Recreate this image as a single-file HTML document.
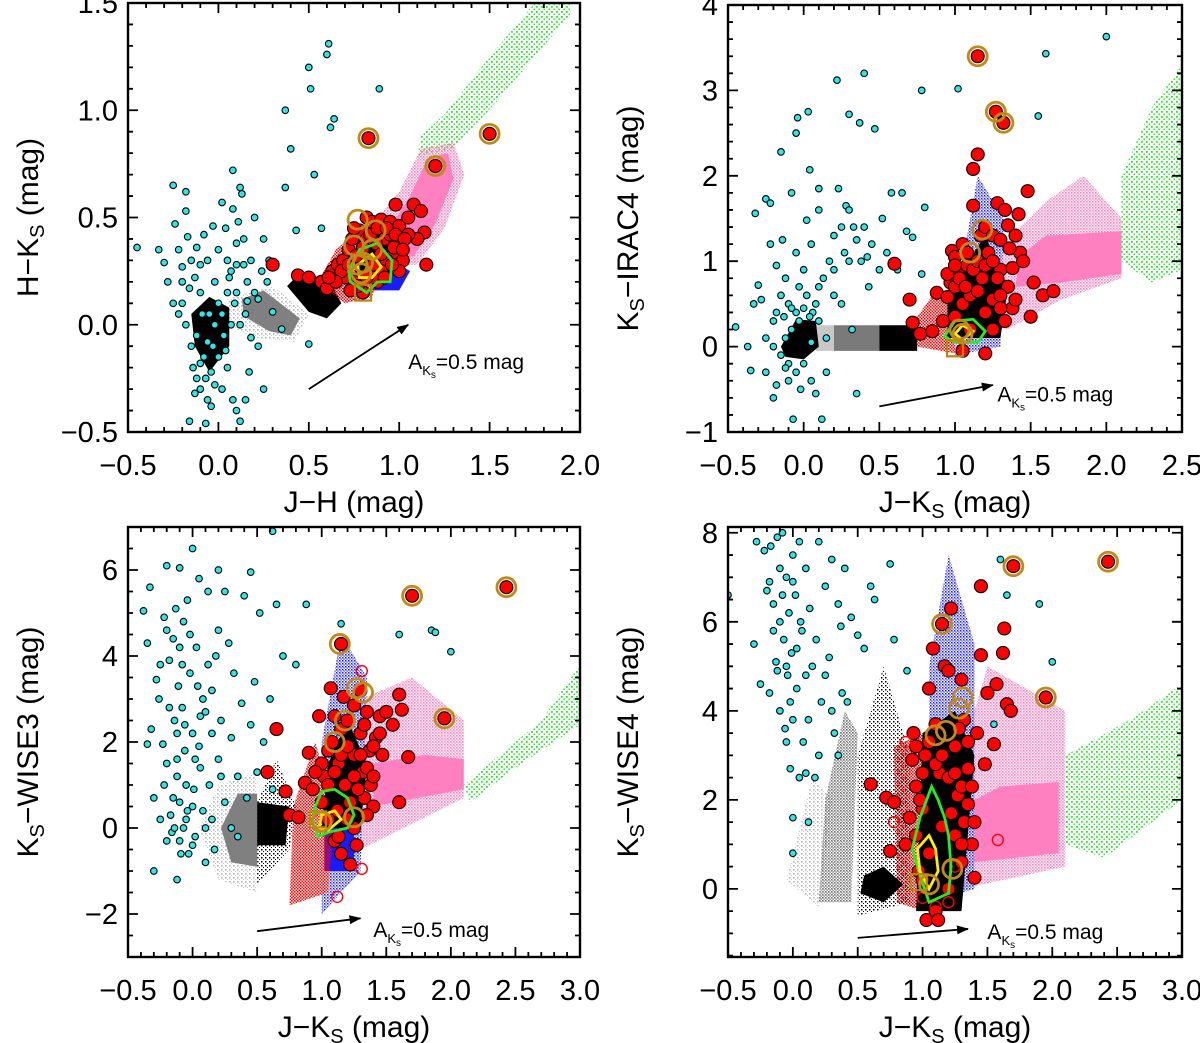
<!DOCTYPE html>
<html><head><meta charset="utf-8"><style>
html,body{margin:0;padding:0;background:#fff;}
svg{display:block;font-family:"Liberation Sans",sans-serif;}
</style></head><body>
<svg id="fig" width="1200" height="1043" viewBox="0 0 1200 1043" xmlns="http://www.w3.org/2000/svg">
<defs>
<pattern id="dGreen" width="5" height="5" patternUnits="userSpaceOnUse"><rect x="1" y="1" width="1.8" height="1.8" fill="#22ee22"/><rect x="3.5" y="3.5" width="1.5" height="1.5" fill="#22ee22"/></pattern>
<pattern id="dPink" width="3" height="3" patternUnits="userSpaceOnUse"><rect x="0" y="0" width="1.6" height="1.6" fill="#ff7fbf"/><rect x="1.5" y="1.5" width="1.3" height="1.3" fill="#ff7fbf"/></pattern>
<pattern id="dBlack" width="4" height="4" patternUnits="userSpaceOnUse"><rect x="1" y="1" width="1.5" height="1.5" fill="#000"/><rect x="3" y="3" width="1.2" height="1.2" fill="#000"/></pattern>
<pattern id="dGray" width="3" height="3" patternUnits="userSpaceOnUse"><rect x="0" y="0" width="1.6" height="1.6" fill="#707070"/><rect x="1.5" y="1.5" width="1.4" height="1.4" fill="#888"/></pattern>
<pattern id="dLGray" width="4" height="4" patternUnits="userSpaceOnUse"><rect x="1" y="1" width="1.6" height="1.6" fill="#b8b8b8"/><rect x="3" y="3" width="1.2" height="1.2" fill="#c8c8c8"/></pattern>
<pattern id="dBlue" width="3" height="3" patternUnits="userSpaceOnUse"><rect x="0" y="0" width="1.5" height="1.5" fill="#1a1aff"/><rect x="1.5" y="1.5" width="1.2" height="1.2" fill="#1a1aff"/></pattern>
<pattern id="dRed" width="3" height="3" patternUnits="userSpaceOnUse"><rect x="0" y="0" width="1.6" height="1.6" fill="#f00"/><rect x="1.5" y="1.5" width="1.5" height="1.5" fill="#f00"/></pattern>
<marker id="arrowHead" markerWidth="12" markerHeight="9" refX="11" refY="4.5" orient="auto" markerUnits="userSpaceOnUse"><path d="M0,0 L12,4.5 L0,9 z" fill="#000"/></marker>
</defs>
</svg>
<script>
// ---------- Panel 1 data (J-H vs H-Ks) ----------
const p1Green=[[1.1,0.78],[1.3,0.82],[1.55,1.05],[1.95,1.45],[1.95,1.52],[1.75,1.5],[1.5,1.25],[1.25,0.98],[1.12,0.88]];
const p1PinkHalo=[[0.9,0.28],[1.1,0.28],[1.25,0.45],[1.36,0.7],[1.3,0.85],[1.12,0.82],[1.0,0.62],[0.88,0.5]];
const p1Pink=[[0.98,0.3],[1.08,0.32],[1.2,0.47],[1.3,0.68],[1.27,0.8],[1.16,0.78],[1.06,0.6],[0.97,0.48]];
const p1Blue=[[0.85,0.16],[1.0,0.16],[1.06,0.25],[0.96,0.3]];
const p1RedCloud=[[0.55,0.2],[0.7,0.1],[0.85,0.13],[0.92,0.3],[0.82,0.47],[0.65,0.35]];
const p1BlackCore=[[0.75,0.2],[0.95,0.22],[1.02,0.38],[0.92,0.48],[0.78,0.42]];
const p1BlackBlob=[[0.38,0.18],[0.5,0.06],[0.6,0.03],[0.68,0.1],[0.62,0.2],[0.46,0.25]];
const p1Gray=[[0.13,0.12],[0.25,0.16],[0.45,0.03],[0.4,-0.05],[0.28,-0.03],[0.14,0.04]];
const p1LGray=[[0.05,0.12],[0.3,0.18],[0.5,0.05],[0.42,-0.08],[0.2,-0.06],[0.05,0.0]];
const p1BlackDwarf=[[-0.15,0.05],[-0.05,0.13],[0.06,0.08],[0.06,-0.1],[-0.05,-0.22],[-0.13,-0.1]];
const p1Cyan=[[-0.45,0.36],[-0.33,0.35],[-0.3,0.29],[-0.28,0.2],[-0.25,0.65],[-0.24,0.47],[-0.22,0.35],[-0.2,0.27],[-0.18,0.62],[-0.18,0.53],[-0.17,0.41],[-0.15,0.3],[-0.13,0.22],[-0.12,0.36],[-0.1,0.28],[-0.08,0.42],[-0.06,0.3],[-0.03,0.46],[-0.02,0.2],[0.0,0.35],[0.02,0.57],[0.04,0.45],[0.05,0.3],[0.07,0.25],[0.08,0.54],[0.1,0.38],[0.12,0.64],[0.13,0.61],[0.14,0.28],[0.16,0.2],[0.2,0.5],[0.22,0.12],[0.25,0.4],[0.27,0.2],[0.3,0.06],[0.35,-0.02],[0.37,1.0],[0.37,0.64],[0.4,0.82],[0.43,0.44],[0.5,1.2],[0.51,1.1],[0.5,-0.09],[0.53,0.7],[0.57,0.45],[0.6,1.26],[0.61,1.31],[0.62,0.92],[0.64,0.96],[0.89,1.1],[0.08,0.72],[-0.2,0.1],[-0.18,0.0],[-0.15,-0.1],[-0.14,-0.2],[-0.12,-0.25],[-0.1,-0.3],[-0.08,-0.15],[-0.06,-0.35],[-0.05,0.05],[-0.04,-0.22],[-0.02,-0.28],[0.0,-0.15],[0.02,-0.3],[0.03,-0.05],[0.05,-0.2],[0.07,0.0],[0.08,-0.35],[0.1,-0.4],[0.12,-0.45],[0.15,-0.35],[0.17,-0.22],[0.18,-0.06],[0.22,-0.1],[0.25,-0.3],[-0.16,-0.45],[-0.07,-0.46],[-0.25,0.1],[-0.22,0.05],[0.0,0.1],[0.1,0.15],[0.15,0.05],[0.05,0.15],[-0.1,0.15],[0.12,0.0],[-0.03,-0.1],[-0.12,-0.05],[-0.09,0.05],[-0.06,-0.08],[-0.02,0.0],[0.02,0.05],[0.04,-0.12],[-0.1,-0.18],[-0.07,-0.25],[-0.13,-0.32],[-0.04,-0.38],[0.06,0.22],[0.1,0.28],[0.14,0.4],[0.18,0.3],[0.09,0.1],[-0.16,0.17],[-0.2,0.2],[0.2,0.15],[0.24,0.25],[0.28,0.3],[0.11,0.48],[0.16,0.11]];
const p1Red=[[0.3,0.28],[0.44,0.23],[0.5,0.22],[0.57,0.2],[0.6,0.17],[0.63,0.25],[0.66,0.28],[0.69,0.3],[0.72,0.35],[0.74,0.4],[0.78,0.44],[0.82,0.5],[0.85,0.48],[0.9,0.49],[0.95,0.48],[1.0,0.46],[1.05,0.5],[0.98,0.56],[1.08,0.56],[1.12,0.53],[1.14,0.43],[1.1,0.4],[1.05,0.42],[1.0,0.38],[0.97,0.33],[0.93,0.3],[0.9,0.25],[0.88,0.2],[0.85,0.22],[0.8,0.15],[0.75,0.2],[0.7,0.22],[1.15,0.28],[0.92,0.4],[0.95,0.42],[0.87,0.38],[1.02,0.3],[1.0,0.25],[0.83,0.87],[1.2,0.74],[1.5,0.89],[0.75,0.45],[0.97,0.36],[0.82,0.4],[0.68,0.25],[0.72,0.28],[0.76,0.32],[0.8,0.36],[0.84,0.42],[0.88,0.45],[0.93,0.45],[0.98,0.42],[1.03,0.4],[1.02,0.35],[0.96,0.28],[0.9,0.33],[0.86,0.28],[0.82,0.22],[0.77,0.18],[0.65,0.2],[0.61,0.22],[0.73,0.16],[0.92,0.22]];
const p1Gold=[[0.83,0.87],[1.2,0.74],[1.5,0.89],[0.77,0.49],[0.87,0.44],[0.75,0.37],[0.85,0.35],[0.8,0.29],[0.79,0.24],[0.77,0.28]];
const p1GreenContour=[[0.72,0.25],[0.78,0.35],[0.88,0.38],[0.96,0.3],[0.95,0.2],[0.88,0.2],[0.82,0.15],[0.73,0.2]];
const p1YellowContour=[[0.77,0.28],[0.85,0.33],[0.9,0.27],[0.85,0.22],[0.78,0.22]];
const p1Square=[0.8,0.15];
const p1Arrow=[[0.5,-0.3],[1.05,0.0]];
const p1Label=[1.05,-0.17];
const p1XTicks=["−0.5","0.0","0.5","1.0","1.5","2.0"];
const p1YTicks=["−0.5","0.0","0.5","1.0","1.5"];

// ---------- Panel 2 data (J-Ks vs Ks-IRAC4) ----------
const p2Green=[[2.1,1.0],[2.1,2.0],[2.3,2.8],[2.5,3.3],[2.5,0.9],[2.3,0.75]];
const p2PinkHalo=[[1.1,0.3],[1.35,0.2],[1.7,0.55],[2.1,0.8],[2.1,1.5],[1.85,2.0],[1.6,1.7],[1.4,1.35],[1.25,0.9]];
const p2Pink=[[1.4,0.7],[1.7,0.75],[2.1,0.85],[2.1,1.35],[1.6,1.3],[1.42,1.05]];
const p2Blue=[[1.0,-0.1],[1.3,0.0],[1.32,1.5],[1.15,2.0],[1.05,1.0]];
const p2RedCloud=[[0.75,0.0],[1.0,-0.08],[1.02,0.5],[0.85,0.6],[0.75,0.35]];
const p2BlackCore=[[0.95,0.1],[1.3,0.1],[1.35,0.7],[1.2,1.3],[1.05,0.9],[0.95,0.5]];
const p2BlackStrip=[[0.5,-0.05],[0.75,-0.05],[0.75,0.25],[0.5,0.25]];
const p2Gray=[[0.2,-0.05],[0.5,-0.05],[0.5,0.25],[0.2,0.25]];
const p2LGray=[[0.08,-0.05],[0.2,-0.05],[0.2,0.25],[0.08,0.25]];
const p2BlackDwarf=[[-0.15,0.0],[-0.05,0.32],[0.08,0.3],[0.1,0.0],[0.0,-0.15],[-0.12,-0.12]];
const p2Cyan=[[-0.45,0.23],[-0.37,0.0],[-0.35,-0.28],[-0.33,0.5],[-0.32,1.56],[-0.3,0.72],[-0.28,0.55],[-0.25,1.73],[-0.22,1.68],[-0.22,1.2],[-0.2,0.3],[-0.2,-0.6],[-0.18,0.95],[-0.15,2.28],[-0.14,1.25],[-0.12,0.8],[-0.1,0.5],[-0.1,-0.4],[-0.08,1.8],[-0.07,-0.85],[-0.05,2.5],[-0.05,1.1],[-0.04,2.68],[-0.03,0.3],[-0.02,-0.5],[0.0,0.9],[0.02,0.6],[0.02,1.48],[0.03,2.75],[0.04,2.07],[0.05,1.2],[0.06,0.4],[0.08,-0.55],[0.1,1.85],[0.1,1.6],[0.12,-0.85],[0.13,0.8],[0.15,-0.3],[0.17,1.0],[0.2,1.3],[0.22,3.12],[0.23,1.85],[0.25,0.5],[0.27,1.1],[0.28,1.65],[0.3,2.72],[0.32,0.2],[0.33,1.4],[0.35,-0.55],[0.37,2.62],[0.38,1.0],[0.4,3.2],[0.4,1.4],[0.43,0.7],[0.45,1.2],[0.47,2.55],[0.5,0.9],[0.52,1.5],[0.55,1.1],[0.58,1.8],[0.62,0.9],[0.65,1.8],[0.68,1.35],[0.72,1.28],[0.78,0.85],[0.8,1.63],[0.78,3.0],[0.95,0.55],[1.02,3.02],[1.6,3.43],[1.55,2.7],[2.0,3.63],[-0.12,0.1],[-0.08,0.2],[-0.15,-0.1],[0.0,-0.2],[0.05,0.05],[-0.2,0.0],[-0.1,-0.2],[0.1,0.3],[0.15,0.1],[-0.05,0.4],[0.2,0.6],[-0.25,0.1],[-0.18,0.4],[-0.13,0.35],[-0.08,0.45],[0.0,0.45],[0.04,0.35],[0.08,0.5],[-0.15,0.6],[-0.03,0.7],[0.1,0.7],[0.25,1.4],[0.3,1.0],[0.35,1.25],[0.42,1.05],[0.3,1.6],[0.2,0.9],[-0.25,-0.3],[-0.18,-0.45],[-0.12,-0.25],[-0.05,-0.3],[0.05,-0.4]];
const p2Red=[[0.6,0.97],[0.7,0.55],[0.72,0.28],[0.77,0.15],[0.85,0.18],[0.88,0.63],[0.92,0.3],[0.95,0.58],[0.97,0.75],[0.98,1.12],[1.0,1.05],[1.02,0.9],[1.05,0.5],[1.05,1.2],[1.08,1.1],[1.1,0.6],[1.1,0.2],[1.12,1.65],[1.12,2.08],[1.15,2.25],[1.15,3.4],[1.17,1.3],[1.18,0.8],[1.2,1.4],[1.2,0.4],[1.22,1.1],[1.25,1.3],[1.27,2.75],[1.28,1.68],[1.3,1.25],[1.3,0.9],[1.32,2.62],[1.33,1.6],[1.35,1.42],[1.35,0.7],[1.38,0.92],[1.38,0.45],[1.4,1.3],[1.42,1.55],[1.43,1.1],[1.45,1.0],[1.48,1.82],[1.5,0.35],[1.52,0.75],[1.58,0.6],[1.65,0.65],[1.2,-0.08],[1.05,-0.05],[1.0,0.35],[1.15,0.65],[1.25,0.55],[1.3,0.6],[1.08,0.95],[1.0,0.7],[1.03,0.8],[1.07,0.7],[1.12,0.9],[1.15,1.0],[1.2,0.95],[1.25,1.0],[1.28,0.8],[1.3,0.45],[1.33,0.3],[1.36,1.15],[1.4,0.55],[1.25,0.2],[0.95,0.85],[1.0,0.95]];
const p2Gold=[[1.15,3.4],[1.27,2.75],[1.32,2.62],[1.18,1.37],[1.1,1.1],[1.03,0.2],[1.05,0.15]];
const p2GreenContour=[[0.93,0.12],[1.0,0.3],[1.12,0.32],[1.2,0.18],[1.15,0.05],[1.0,0.05]];
const p2YellowContour=[[1.0,0.15],[1.05,0.25],[1.12,0.18],[1.05,0.08]];
const p2Square=[1.0,-0.02];
const p2Arrow=[[0.5,-0.7],[1.25,-0.45]];
const p2Label=[1.28,-0.55];
const p2XTicks=["−0.5","0.0","0.5","1.0","1.5","2.0","2.5"];
const p2YTicks=["−1","0","1","2","3","4"];

// ---------- Panel 3 data (J-Ks vs Ks-WISE3) ----------
const p3Green=[[2.1,1.0],[2.3,1.5],[2.7,2.5],[3.0,3.8],[3.0,2.4],[2.5,1.4],[2.15,0.6]];
const p3PinkHalo=[[1.3,-0.5],[2.1,0.7],[2.1,2.5],[1.7,3.5],[1.3,3.0]];
const p3Pink=[[1.4,0.5],[2.1,0.9],[2.1,1.6],[1.8,1.7],[1.4,1.5]];
const p3BlueHalo=[[1.0,-2.0],[1.3,-1.0],[1.35,3.5],[1.15,4.5],[1.0,2.0]];
const p3Blue=[[1.02,-1.0],[1.25,-1.0],[1.25,0.0],[1.02,0.0]];
const p3RedCloud=[[0.75,-1.8],[1.05,-1.5],[1.1,0.5],[0.95,2.0],[0.78,0.5]];
const p3BlackCore=[[1.0,0.0],[1.3,0.0],[1.35,1.5],[1.2,2.5],[1.05,1.5]];
const p3BlackHalo=[[0.5,-1.3],[0.75,-0.5],[0.8,0.5],[0.65,1.6],[0.5,0.6]];
const p3BlackDense=[[0.5,-0.4],[0.72,-0.4],[0.75,0.5],[0.5,0.6]];
const p3Gray=[[0.22,0.0],[0.3,-0.8],[0.5,-0.9],[0.5,0.8],[0.35,0.8]];
const p3LGray=[[0.05,0.0],[0.2,-1.2],[0.5,-1.5],[0.5,1.3],[0.2,1.0]];
const p3Cyan=[[-0.38,5.05],[-0.35,4.3],[-0.33,5.6],[-0.32,2.3],[-0.35,1.95],[-0.3,0.7],[-0.28,3.45],[-0.25,3.8],[-0.23,1.95],[-0.22,4.9],[-0.2,4.6],[-0.2,1.5],[-0.18,3.9],[-0.17,0.3],[-0.16,-0.1],[-0.15,4.4],[-0.14,2.5],[-0.13,5.1],[-0.12,1.2],[-0.11,3.3],[-0.1,0.6],[-0.1,-0.3],[-0.08,2.8],[-0.07,4.8],[-0.06,1.8],[-0.05,0.2],[-0.04,5.3],[-0.03,-0.6],[-0.02,3.6],[0.0,6.5],[0.0,2.2],[0.01,0.9],[0.02,-0.2],[0.03,4.2],[0.05,5.8],[0.06,1.4],[0.08,3.0],[0.08,0.4],[0.1,2.7],[0.12,5.5],[0.13,1.0],[0.15,3.2],[0.17,-0.5],[0.18,4.0],[0.2,1.6],[0.22,2.5],[0.25,0.6],[0.28,4.3],[0.3,2.1],[0.32,3.6],[0.35,1.2],[0.38,2.9],[0.4,5.4],[0.42,0.7],[0.45,2.4],[0.48,3.4],[0.5,1.3],[0.52,5.0],[0.55,2.0],[0.6,3.0],[0.62,0.9],[0.65,5.2],[0.7,4.0],[0.8,3.8],[0.88,5.2],[1.15,4.75],[1.6,4.5],[1.85,4.6],[1.88,4.55],[2.0,4.1],[-0.3,-1.0],[-0.12,-1.2],[-0.07,0.0],[0.0,0.5],[-0.15,0.7],[0.1,-0.8],[-0.25,0.2],[0.15,0.2],[0.3,0.0],[0.35,-0.2],[-0.05,1.0],[0.05,1.9],[-0.2,6.1],[-0.1,6.05],[0.2,6.0],[0.45,5.95],[0.25,5.5],[0.62,6.9],[-0.18,2.8],[-0.12,2.2],[-0.08,3.8],[-0.02,4.5],[0.02,1.6],[-0.22,1.0],[-0.14,0.0],[-0.09,-0.6],[-0.04,0.4],[0.0,-0.4],[-0.2,-0.3],[-0.26,3.0],[-0.1,4.2],[0.06,2.6],[0.12,3.8],[0.2,4.6],[0.1,0.0],[-0.12,1.6],[-0.06,2.4],[0.04,3.3],[0.15,2.2],[0.22,1.2]];
const p3Red=[[0.58,1.3],[0.65,2.3],[0.72,0.85],[0.75,0.3],[0.82,0.25],[0.87,1.05],[0.9,1.75],[0.93,0.9],[0.98,2.6],[1.0,0.6],[1.02,1.2],[1.05,1.8],[1.07,3.25],[1.08,2.0],[1.1,-0.3],[1.12,0.4],[1.13,1.5],[1.15,2.3],[1.15,4.28],[1.15,-0.6],[1.17,3.05],[1.18,1.0],[1.2,2.5],[1.22,-0.85],[1.22,0.6],[1.25,2.85],[1.25,1.7],[1.27,-0.4],[1.3,3.2],[1.3,2.2],[1.32,1.3],[1.33,0.7],[1.35,2.7],[1.37,1.8],[1.38,1.0],[1.4,0.5],[1.42,2.1],[1.45,2.6],[1.47,1.7],[1.5,2.7],[1.55,2.4],[1.6,3.1],[1.6,0.6],[1.62,2.75],[1.67,1.65],[1.7,5.4],[2.43,5.6],[1.95,2.55],[1.13,-0.2],[1.25,0.0],[1.05,0.2],[1.0,1.5],[1.05,1.0],[1.1,1.3],[1.15,1.7],[1.2,1.9],[1.25,1.2],[1.3,1.7],[1.35,1.4],[1.4,1.2],[1.4,1.9],[1.45,2.2],[1.33,2.4],[1.28,0.9],[1.35,0.3],[1.2,0.2],[1.1,2.6],[0.95,1.3]];
const p3RedOpen=[[1.31,3.65],[1.31,-0.95],[1.12,-1.6]];
const p3Gold=[[1.7,5.4],[2.43,5.6],[1.95,2.55],[1.14,4.28],[1.27,3.25],[1.32,3.15],[1.18,2.5],[1.1,2.0],[1.25,0.25],[1.0,0.15]];
const p3GreenContour=[[0.95,0.5],[1.0,0.85],[1.1,0.9],[1.2,0.7],[1.25,0.3],[1.2,0.0],[1.05,-0.1],[0.97,-0.2],[0.93,0.2]];
const p3YellowContour=[[1.0,0.3],[1.1,0.4],[1.15,0.2],[1.05,-0.05],[0.98,0.0]];
const p3Square=[0.97,0.2];
const p3Arrow=[[0.5,-2.4],[1.3,-2.1]];
const p3Label=[1.4,-2.35];
const p3XTicks=["−0.5","0.0","0.5","1.0","1.5","2.0","2.5","3.0"];
const p3YTicks=["−2","0","2","4","6"];

// ---------- Panel 4 data (J-Ks vs Ks-WISE4) ----------
const p4Green=[[2.1,1.0],[2.1,3.0],[2.6,3.8],[3.0,4.6],[3.0,2.0],[2.4,0.7]];
const p4PinkHalo=[[1.3,0.0],[2.1,0.5],[2.1,4.0],[1.5,5.0],[1.3,3.0]];
const p4Pink=[[1.4,0.6],[2.05,0.8],[2.05,2.4],[1.6,2.3],[1.4,2.0]];
const p4Blue=[[1.05,-0.3],[1.4,0.0],[1.4,5.5],[1.2,7.5],[1.05,5.0]];
const p4RedCloud=[[0.8,-0.3],[1.0,-0.5],[1.0,3.5],[0.78,3.2]];
const p4BlackCore=[[0.95,-0.5],[1.3,-0.5],[1.4,3.0],[1.25,4.0],[1.0,3.5]];
const p4BlackHalo=[[0.5,-0.6],[0.9,-0.3],[0.9,3.0],[0.7,5.0],[0.5,3.0]];
const p4BlackDense=[[0.52,-0.1],[0.7,-0.3],[0.85,0.1],[0.7,0.5],[0.55,0.3]];
const p4Gray=[[0.2,-0.3],[0.45,-0.3],[0.5,3.5],[0.4,4.0],[0.25,2.0]];
const p4LGray=[[-0.05,0.2],[0.2,-0.4],[0.3,2.0],[0.15,2.5]];
const p4Cyan=[[-0.5,6.6],[-0.3,5.5],[-0.28,7.8],[-0.25,4.6],[-0.22,7.6],[-0.2,6.7],[-0.18,4.4],[-0.17,7.7],[-0.15,6.4],[-0.13,5.1],[-0.12,7.9],[-0.1,6.0],[-0.1,4.0],[-0.08,8.0],[-0.07,5.6],[-0.06,3.6],[-0.05,7.0],[-0.04,4.8],[-0.03,6.2],[-0.02,2.7],[-0.01,5.3],[0.0,7.5],[0.0,3.8],[0.0,1.6],[0.02,6.6],[0.03,4.5],[0.05,7.8],[0.05,2.5],[0.07,5.8],[0.08,3.3],[0.1,7.2],[0.1,4.8],[0.12,1.5],[0.13,6.3],[0.15,5.0],[0.17,2.5],[0.2,7.8],[0.22,4.2],[0.25,6.8],[0.28,5.2],[0.3,7.4],[0.3,4.0],[0.32,3.5],[0.35,6.4],[0.37,5.9],[0.38,4.4],[0.4,7.2],[0.42,4.2],[0.45,6.1],[0.5,5.7],[0.55,5.4],[0.6,6.8],[0.63,6.5],[0.75,7.3],[0.78,5.6],[0.88,4.9],[1.6,7.4],[1.65,6.6],[1.9,6.4],[2.0,5.1],[1.55,3.7],[0.35,3.0],[0.2,3.0],[0.0,0.8],[-0.15,5.8],[-0.12,4.9],[-0.08,6.6],[-0.05,5.0],[-0.02,4.2],[0.03,5.4],[0.06,6.0],[-0.1,7.2],[0.12,3.8],[-0.18,6.9],[0.0,6.9],[0.18,5.6],[0.25,4.8],[0.1,2.6],[-0.05,3.3]];
const p4Red=[[0.6,2.35],[0.72,2.05],[0.75,0.85],[0.78,1.95],[0.87,1.0],[0.9,1.6],[0.92,2.9],[0.93,3.5],[0.95,2.3],[0.97,0.4],[1.0,1.8],[1.02,3.0],[1.03,-0.7],[1.05,4.5],[1.08,5.4],[1.1,-0.5],[1.1,3.7],[1.12,-0.7],[1.13,2.6],[1.15,1.4],[1.17,5.0],[1.2,4.9],[1.22,6.3],[1.25,3.2],[1.27,2.1],[1.3,4.7],[1.32,3.8],[1.35,2.7],[1.35,1.9],[1.38,1.0],[1.4,0.25],[1.42,3.5],[1.45,5.25],[1.45,6.8],[1.48,2.8],[1.5,4.4],[1.55,3.25],[1.57,4.6],[1.62,5.3],[1.63,5.85],[1.65,4.15],[1.68,4.0],[1.7,7.25],[2.43,7.35],[1.95,4.3],[1.15,5.95],[1.0,0.2],[1.2,0.0],[1.05,0.8],[1.25,1.2],[1.1,2.8],[1.3,0.6],[0.95,3.2],[1.0,2.6],[1.05,3.3],[1.15,3.0],[1.2,2.5],[1.25,2.6],[1.3,2.3],[1.32,1.5],[1.35,3.3],[1.3,1.0],[1.22,1.7],[0.95,1.2],[0.98,2.0],[1.38,2.3],[1.4,1.5],[1.28,3.6]];
const p4RedOpen=[[0.78,1.5],[0.87,3.3],[1.58,1.1],[1.1,-0.4],[1.2,-0.3],[1.0,-0.2],[1.25,0.5]];
const p4Gold=[[1.7,7.25],[2.43,7.35],[1.95,4.3],[1.15,5.95],[1.31,4.3],[1.28,4.05],[1.1,3.45],[1.18,3.55],[1.23,0.45],[1.05,0.1]];
const p4GreenContour=[[1.07,2.3],[1.12,2.0],[1.17,1.6],[1.2,1.2],[1.22,0.5],[1.2,-0.1],[1.05,-0.3],[0.98,0.3],[0.92,0.9],[0.98,1.6]];
const p4YellowContour=[[1.05,1.2],[1.1,0.9],[1.12,0.4],[1.05,0.0],[0.98,0.4],[0.96,0.9]];
const p4Square=[0.97,0.15];
const p4Arrow=[[0.5,-1.1],[1.35,-0.9]];
const p4Label=[1.5,-0.95];
const p4XTicks=["−0.5","0.0","0.5","1.0","1.5","2.0","2.5","3.0"];
const p4YTicks=["0","2","4","6","8"];

const NS="http://www.w3.org/2000/svg";
const svg=document.getElementById('fig');
function mk(tag,attrs,parent){const e=document.createElementNS(NS,tag);for(const k in attrs)e.setAttribute(k,attrs[k]);(parent||svg).appendChild(e);return e;}

function drawPanel(P){
  const g=mk('g',{});
  
  
  const clipId=P.name+'-clip';
  const cp=mk('clipPath',{id:clipId},g);mk('rect',{x:P.l,y:P.t,width:P.r-P.l,height:P.b-P.t},cp);
  const sx=v=>P.l+(v-P.x0)/(P.x1-P.x0)*(P.r-P.l);
  const sy=v=>P.b-(v-P.y0)/(P.y1-P.y0)*(P.b-P.t);
  const plot=mk('g',{'clip-path':'url(#'+clipId+')'},g);
  function poly(pts,fill,name,extra){const p=mk('polygon',Object.assign({points:pts.map(q=>sx(q[0])+','+sy(q[1])).join(' '),fill:fill},extra||{}),plot);
    
    return p;}
  P.clouds.forEach(c=>poly(c[0],c[1],c[2]));
  P.cyan.forEach(q=>{const c=mk('circle',{cx:sx(q[0]),cy:sy(q[1]),r:3.3,fill:'#2ee6e6',stroke:'#000','stroke-width':1.1},plot);
    
    });
  P.red.forEach(q=>{const c=mk('circle',{cx:sx(q[0]),cy:sy(q[1]),r:6.5,fill:'#ff0000',stroke:'#000','stroke-width':1.1},plot);
    
    });
  (P.redOpen||[]).forEach(q=>{const c=mk('circle',{cx:sx(q[0]),cy:sy(q[1]),r:5.5,fill:'none',stroke:'#ff0000','stroke-width':1.4},plot);
    
    });
  poly(P.greenC,'none','green-contour',{stroke:'#22ee22','stroke-width':2.8});
  poly(P.yellowC,'none','yellow-contour',{stroke:'#ffee00','stroke-width':2.8});
  const sq=mk('rect',{x:sx(P.square[0])-8,y:sy(P.square[1])-8,width:16,height:16,fill:'none',stroke:'#b8860b','stroke-width':2.2},plot);
  
  
  P.gold.forEach(q=>{const c=mk('circle',{cx:sx(q[0]),cy:sy(q[1]),r:9.5,fill:'none',stroke:'#c08a1a','stroke-width':2.8},plot);
    
    });
  const ar=mk('line',{x1:sx(P.arrow[0][0]),y1:sy(P.arrow[0][1]),x2:sx(P.arrow[1][0]),y2:sy(P.arrow[1][1]),stroke:'#000','stroke-width':1.8,'marker-end':'url(#arrowHead)'},g);
  
  
  const lt=mk('text',{x:sx(P.label[0]),y:sy(P.label[1])+8,'font-size':21,fill:'#000'},g);
  
  
  lt.innerHTML='A<tspan font-size="13" dy="6">K</tspan><tspan font-size="10" dy="3">s</tspan><tspan dy="-9">=0.5  mag</tspan>';
  const fr=mk('rect',{x:P.l,y:P.t,width:P.r-P.l,height:P.b-P.t,fill:'none',stroke:'#000','stroke-width':2.4},g);
  
  
  let d='';
  const eps=1e-6;
  for(let v=P.x0;v<=P.x1+eps;v+=P.xmin){const X=sx(v);const major=Math.abs(Math.round((v-P.x0)/P.xmaj)*P.xmaj-(v-P.x0))<eps;const L=major?10:5;d+=`M${X},${P.b}v${-L}M${X},${P.t}v${L}`;}
  for(let v=P.ytick0-Math.floor((P.ytick0-P.y0)/P.ymin)*P.ymin;v<=P.y1+eps;v+=P.ymin){const Y=sy(v);const major=Math.abs(Math.round((v-P.ytick0)/P.ymaj)*P.ymaj-(v-P.ytick0))<eps;const L=major?10:5;d+=`M${P.l},${Y}h${L}M${P.r},${Y}h${-L}`;}
  const tk=mk('path',{d:d,stroke:'#000','stroke-width':1.8,fill:'none'},g);
  
  
  P.xticks.forEach((s,i)=>{const t=mk('text',{x:sx(P.x0+i*P.xmaj),y:P.b+43,'font-size':29,'text-anchor':'middle'},g);t.textContent=s;
    
    });
  P.yticks.forEach((s,i)=>{const t=mk('text',{x:P.l-10,y:sy(P.ytick0+i*P.ymaj)+10,'font-size':29,'text-anchor':'end'},g);t.textContent=s;
    
    });
  const xt=mk('text',{x:(P.l+P.r)/2,y:P.b+80,'font-size':30,'text-anchor':'middle'},g);
  
  
  xt.innerHTML=P.xtitle;
  const cy=(P.t+P.b)/2, cx=P.l-90;
  const yt=mk('text',{x:cx,y:cy,'font-size':30,'text-anchor':'middle',transform:`rotate(-90 ${cx} ${cy})`},g);
  
  
  yt.innerHTML=P.ytitle;
}
const KS='K<tspan font-size="20" dy="6">S</tspan><tspan dy="-6">';
const xJK='J−'+KS+'  (mag)</tspan>';
drawPanel({name:'panel-jh-hk',l:128,r:580,t:3,b:432,x0:-0.5,x1:2.0,y0:-0.5,y1:1.5,xmaj:0.5,xmin:0.1,ytick0:-0.5,ymaj:0.5,ymin:0.1,
  xticks:p1XTicks,yticks:p1YTicks,xtitle:'J−H  (mag)',ytitle:'H−'+KS+'  (mag)</tspan>',
  clouds:[[p1Green,'url(#dGreen)','green-cloud'],[p1LGray,'url(#dLGray)','lightgray-cloud'],[p1Gray,'#808080','gray-cloud'],[p1BlackBlob,'#000','black-cloud'],[p1BlackDwarf,'#000','black-dwarf-cloud'],[p1PinkHalo,'url(#dPink)','pink-halo'],[p1Pink,'#ff80c0','pink-cloud'],[p1Blue,'#1a1aff','blue-cloud'],[p1RedCloud,'url(#dRed)','red-cloud'],[p1BlackCore,'#000','black-core']],
  cyan:p1Cyan,red:p1Red,gold:p1Gold,greenC:p1GreenContour,yellowC:p1YellowContour,square:p1Square,arrow:p1Arrow,label:p1Label});
drawPanel({name:'panel-jk-irac4',l:728,r:1182,t:5,b:432,x0:-0.5,x1:2.5,y0:-1.0,y1:4.0,xmaj:0.5,xmin:0.1,ytick0:-1,ymaj:1,ymin:0.2,
  xticks:p2XTicks,yticks:p2YTicks,xtitle:xJK,ytitle:KS+'−IRAC4  (mag)</tspan>',
  clouds:[[p2Green,'url(#dGreen)','green-cloud'],[p2PinkHalo,'url(#dPink)','pink-halo'],[p2Pink,'#ff80c0','pink-cloud'],[p2Blue,'url(#dBlue)','blue-cloud'],[p2RedCloud,'url(#dRed)','red-cloud'],[p2LGray,'#c8c8c8','lightgray-cloud'],[p2Gray,'#7a7a7a','gray-cloud'],[p2BlackStrip,'#000','black-strip'],[p2BlackDwarf,'#000','black-dwarf-cloud'],[p2BlackCore,'#000','black-core']],
  cyan:p2Cyan,red:p2Red,gold:p2Gold,greenC:p2GreenContour,yellowC:p2YellowContour,square:p2Square,arrow:p2Arrow,label:p2Label});
drawPanel({name:'panel-jk-wise3',l:128,r:580,t:527,b:957,x0:-0.5,x1:3.0,y0:-3.0,y1:7.0,xmaj:0.5,xmin:0.1,ytick0:-2,ymaj:2,ymin:0.5,
  xticks:p3XTicks,yticks:p3YTicks,xtitle:xJK,ytitle:KS+'−WISE3  (mag)</tspan>',
  clouds:[[p3Green,'url(#dGreen)','green-cloud'],[p3PinkHalo,'url(#dPink)','pink-halo'],[p3Pink,'#ff80c0','pink-cloud'],[p3BlueHalo,'url(#dBlue)','blue-halo'],[p3Blue,'#1a1aff','blue-cloud'],[p3RedCloud,'url(#dRed)','red-cloud'],[p3LGray,'url(#dLGray)','lightgray-cloud'],[p3Gray,'#808080','gray-cloud'],[p3BlackHalo,'url(#dBlack)','black-halo'],[p3BlackDense,'#000','black-strip'],[p3BlackCore,'#000','black-core']],
  cyan:p3Cyan,red:p3Red,redOpen:p3RedOpen,gold:p3Gold,greenC:p3GreenContour,yellowC:p3YellowContour,square:p3Square,arrow:p3Arrow,label:p3Label});
drawPanel({name:'panel-jk-wise4',l:728,r:1182,t:527,b:957,x0:-0.5,x1:3.0,y0:-1.53,y1:8.13,xmaj:0.5,xmin:0.1,ytick0:0,ymaj:2,ymin:0.5,
  xticks:p4XTicks,yticks:p4YTicks,xtitle:xJK,ytitle:KS+'−WISE4  (mag)</tspan>',
  clouds:[[p4Green,'url(#dGreen)','green-cloud'],[p4PinkHalo,'url(#dPink)','pink-halo'],[p4Pink,'#ff80c0','pink-cloud'],[p4Blue,'url(#dBlue)','blue-cloud'],[p4RedCloud,'url(#dRed)','red-cloud'],[p4LGray,'url(#dLGray)','lightgray-cloud'],[p4Gray,'url(#dGray)','gray-cloud'],[p4BlackHalo,'url(#dBlack)','black-halo'],[p4BlackDense,'#000','black-clump'],[p4BlackCore,'#000','black-core']],
  cyan:p4Cyan,red:p4Red,redOpen:p4RedOpen,gold:p4Gold,greenC:p4GreenContour,yellowC:p4YellowContour,square:p4Square,arrow:p4Arrow,label:p4Label});
</script>
</body></html>
